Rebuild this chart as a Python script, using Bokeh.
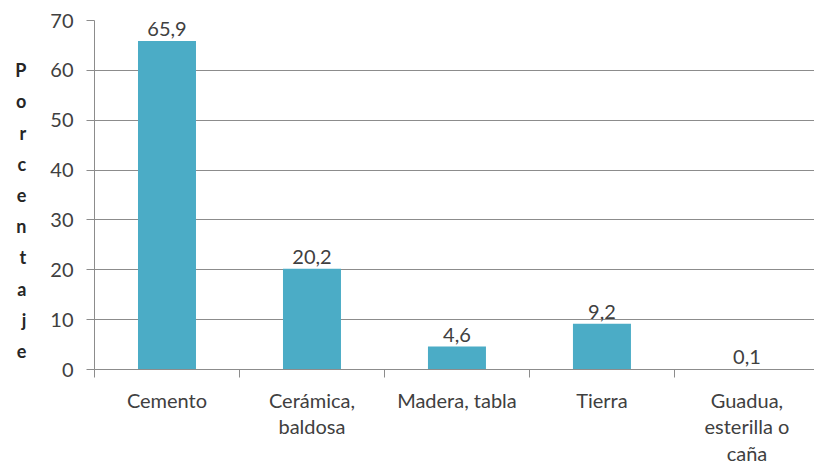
from bokeh.plotting import figure
from bokeh.models import ColumnDataSource, LabelSet, FixedTicker, Range1d
from bokeh.core.properties import value
from bokeh.embed import file_html
from bokeh.resources import INLINE

categories = ["Cemento", "Cerámica,\nbaldosa", "Madera, tabla", "Tierra", "Guadua,\nesterilla o\ncaña"]
values = [65.9, 20.2, 4.6, 9.2, 0.1]
y_ticks = [0, 10, 20, 30, 40, 50, 60, 70]
y_label = "Porcentaje"

FONT = "Lato"
TXT = "#404040"
GRID = "#8c8c8c"
BAR = "#4BACC6"

xs = [i + 0.5 for i in range(len(categories))]
src = ColumnDataSource(dict(
    x=xs, top=values,
    label=[f"{v:.1f}".replace(".", ",") for v in values],
))

p = figure(width=814, height=468, output_backend="svg", toolbar_location=None,
           x_range=Range1d(0, 4.966), y_range=Range1d(0, 70),
           min_border_left=94, min_border_right=0, min_border_top=20, min_border_bottom=0)
p.outline_line_color = None
p.background_fill_color = "white"
p.border_fill_color = "white"

p.vbar(x="x", top="top", width=0.4, bottom=0, source=src, fill_color=BAR, line_color=None)

labels = LabelSet(x="x", y="top", text="label", source=src, text_align="center",
                  text_baseline="bottom", y_offset=5, text_font=value(FONT),
                  text_font_size=value("20px"), text_color=TXT)
p.add_layout(labels)

# x axis
p.xaxis.ticker = FixedTicker(ticks=xs, minor_ticks=list(range(len(categories) + 1)))
p.xaxis.major_label_overrides = {x: c for x, c in zip(xs, categories)}
p.xaxis.major_tick_out = 0
p.xaxis.major_tick_in = 0
p.xaxis.minor_tick_out = 8
p.xaxis.minor_tick_in = 0
p.xaxis.minor_tick_line_color = GRID
p.xaxis.axis_line_color = GRID
p.xaxis.major_label_standoff = 10
p.xaxis.major_label_text_font = FONT
p.xaxis.major_label_text_font_size = "20px"
p.xaxis.major_label_text_color = TXT
p.xaxis.major_label_text_line_height = 1.12
p.xaxis.major_label_orientation = "horizontal"

# y axis
p.yaxis.ticker = FixedTicker(ticks=y_ticks)
p.yaxis.minor_tick_line_color = None
p.yaxis.major_tick_out = 8
p.yaxis.major_tick_in = 0
p.yaxis.major_tick_line_color = GRID
p.yaxis.axis_line_color = GRID
p.yaxis.major_label_standoff = 13
p.yaxis.major_label_text_font = FONT
p.yaxis.major_label_text_font_size = "20px"
p.yaxis.major_label_text_color = TXT
p.yaxis.axis_label = "\n" + "\n".join(y_label)
p.yaxis.axis_label_orientation = "horizontal"
p.yaxis.axis_label_text_font = FONT
p.yaxis.axis_label_text_font_style = "bold"
p.yaxis.axis_label_text_font_size = "18px"
p.yaxis.axis_label_text_color = "#262626"
p.yaxis.axis_label_text_line_height = 1.42
p.yaxis.axis_label_standoff = 21

p.xgrid.grid_line_color = None
p.ygrid.grid_line_color = GRID
p.ygrid.grid_line_width = 1

open("out.html", "w").write(file_html(p, INLINE))
